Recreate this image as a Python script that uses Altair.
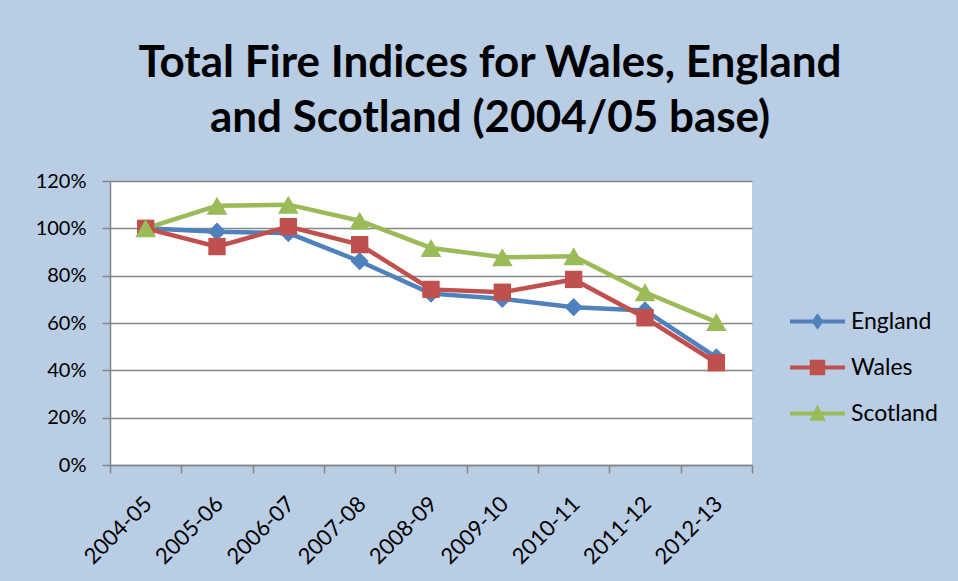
import altair as alt
import pandas as pd

years = ["2004-05", "2005-06", "2006-07", "2007-08", "2008-09",
         "2009-10", "2010-11", "2011-12", "2012-13"]
england = [1.00, 0.986, 0.98, 0.861, 0.724, 0.702, 0.667, 0.653, 0.455]
wales = [1.00, 0.923, 1.007, 0.931, 0.742, 0.730, 0.784, 0.622, 0.432]
scotland = [1.00, 1.095, 1.10, 1.032, 0.917, 0.878, 0.882, 0.730, 0.604]

series = ["England", "Wales", "Scotland"]
colors = ["#4F81BD", "#C0504D", "#9BBB59"]
shapes = ["diamond", "square", "triangle-up"]
sizes = [330, 300, 430]

rows = []
for name, vals in zip(series, [england, wales, scotland]):
    for y, v in zip(years, vals):
        rows.append({"year": y, "series": name, "value": v})
df = pd.DataFrame(rows)

legend_paths = [
    "M-1,-0.075L1,-0.075L1,0.075L-1,0.075Z M0,-0.3L0.22,0L0,0.3L-0.22,0Z",
    "M-1,-0.075L1,-0.075L1,0.075L-1,0.075Z M-0.28,-0.28L0.28,-0.28L0.28,0.28L-0.28,0.28Z",
    "M-1,-0.075L1,-0.075L1,0.075L-1,0.075Z M0,-0.32L0.3,0.26L-0.3,0.26Z",
]

FONT = "Lato"
GRID = "#868686"

x_enc = alt.X(
    "year:N", sort=years, title=None,
    scale=alt.Scale(type="band", paddingInner=0, paddingOuter=0),
    axis=alt.Axis(labelAngle=-45, labelFontSize=22, labelFont=FONT, labelColor="black",
                  tickBand="extent", tickSize=8, tickColor=GRID, tickWidth=1.5,
                  domainColor=GRID, domainWidth=1.5, grid=False, labelPadding=20,
                  labelOffset=-5),
)
y_enc = alt.Y(
    "value:Q", title=None,
    scale=alt.Scale(domain=[0, 1.2], nice=False),
    axis=alt.Axis(values=[0, 0.2, 0.4, 0.6, 0.8, 1.0, 1.2], format=".0%",
                  labelFontSize=20, labelFont=FONT, labelColor="black",
                  tickSize=8, tickColor=GRID, tickWidth=1.5,
                  domainColor=GRID, domainWidth=1.5,
                  gridColor=GRID, gridWidth=1.5, labelPadding=16),
)
color_scale = alt.Scale(domain=series, range=colors)

base = alt.Chart(df)

legend_layer = base.transform_filter("false").mark_point(
    filled=True, opacity=1, size=3025, strokeWidth=0
).encode(
    x=x_enc, y=y_enc,
    color=alt.Color("series:N", scale=color_scale,
                    legend=alt.Legend(title=None, orient="none", legendX=680, legendY=113,
                                      labelFont=FONT, labelFontSize=23, labelColor="black",
                                      symbolSize=3025, symbolStrokeWidth=0, symbolOpacity=1,
                                      labelOffset=6, rowPadding=6, padding=0)),
    shape=alt.Shape("series:N", scale=alt.Scale(domain=series, range=legend_paths)),
)

lines = base.mark_line(strokeWidth=4.5).encode(
    x=x_enc, y=y_enc,
    color=alt.Color("series:N", scale=color_scale, legend=None),
    detail="series:N",
)

marker_layers = []
for name, shp, sz in zip(series, shapes, sizes):
    marker_layers.append(
        base.transform_filter(alt.datum.series == name)
        .mark_point(filled=True, opacity=1, shape=shp, size=sz, strokeWidth=0)
        .encode(x=x_enc, y=y_enc,
                color=alt.Color("series:N", scale=color_scale, legend=None))
    )

chart = alt.layer(legend_layer, lines, *marker_layers).properties(
    width=642, height=284,
    title=alt.TitleParams(
        text=["Total Fire Indices for Wales, England", "and Scotland (2004/05 base)"],
        font=FONT, fontSize=44, fontWeight="bold", color="black",
        lineHeight=55, anchor="middle", dx=59, offset=30,
    ),
    autosize=alt.AutoSizeParams(type="none"),
    padding={"left": 110, "top": 181, "right": 206, "bottom": 116},
).configure(background="#B9CDE5").configure_view(stroke=None, fill="white")

chart.save("out.html", embed_options={"renderer": "svg", "actions": False})
